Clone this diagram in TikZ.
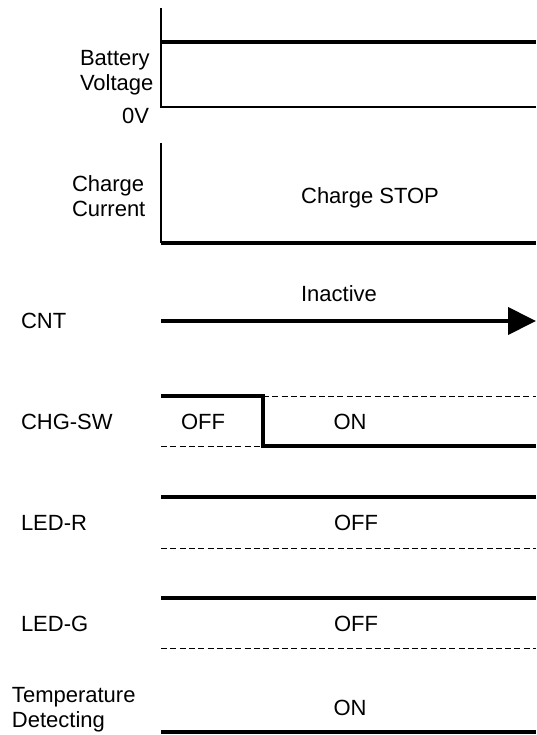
\documentclass[tikz,border=0pt]{standalone}
\usepackage{fontspec}
\setmainfont{Liberation Sans}
\usetikzlibrary{arrows.meta}
\begin{document}
\begin{tikzpicture}[x=1pt,y=-1pt,
  every node/.style={inner sep=0pt,outer sep=0pt,font=\fontsize{22}{26}\selectfont},
  thickline/.style={line width=4pt},
  thinline/.style={line width=1.5pt},
  dashline/.style={line width=1pt,dash pattern=on 6pt off 3.3pt},
  lbl/.style={anchor=base west},
  mid/.style={anchor=base}]
\useasboundingbox (0,0) rectangle (536,735);

% Battery voltage
\coordinate (bvtop) at (161,8);
\coordinate (bv0) at (161,107);
\coordinate (bv0e) at (536,107);
\coordinate (bvl) at (161,42);
\coordinate (bvle) at (536,42);
\draw[thinline] (bvtop) -- (bv0) -- (bv0e);
\draw[thickline] (bvl) -- (bvle);
\node[lbl] (bat1) at (80,66) {Battery};
\node[lbl] (bat2) at (80,91) {Voltage};
\node[anchor=base east] (zero) at (149,124) {0V};

% Charge current
\coordinate (cctop) at (161,143);
\coordinate (ccbot) at (161,243);
\coordinate (ccend) at (536,243);
\draw[thinline] (cctop) -- (ccbot);
\draw[thickline] (ccbot) -- (ccend);
\node[lbl] (cc1) at (72,192) {Charge};
\node[lbl] (cc2) at (72,217) {Current};
\node[mid] (ccstop) at (370,204) {Charge STOP};

% CNT
\coordinate (cnts) at (161,321);
\coordinate (cnte) at (536,321);
\draw[thickline,-{Triangle[length=28pt,width=27pt]}] (cnts) -- (cnte);
\node[mid] (inact) at (339,301) {Inactive};
\node[lbl] (cnt) at (21,328) {CNT};

% CHG-SW
\coordinate (sw1) at (161,396);
\coordinate (sw2) at (263,396);
\coordinate (sw3) at (263,446);
\coordinate (sw4) at (536,446);
\coordinate (sw5) at (536,396);
\coordinate (sw6) at (161,446);
\draw[dashline] (sw2) -- (sw5);
\draw[dashline] (sw6) -- (sw3);
\draw[thickline] (sw1) -- (sw2) -- (sw3) -- (sw4);
\node[lbl] (chgsw) at (21,429) {CHG-SW};
\node[mid] (off1) at (203,429) {OFF};
\node[mid] (on1) at (350,429) {ON};

% LED-R
\coordinate (r1) at (161,497);
\coordinate (r2) at (536,497);
\coordinate (r3) at (161,548);
\coordinate (r4) at (536,548);
\draw[thickline] (r1) -- (r2);
\draw[dashline] (r3) -- (r4);
\node[lbl] (ledr) at (21,530) {LED-R};
\node[mid] (offr) at (356,530) {OFF};

% LED-G
\coordinate (g1) at (161,598);
\coordinate (g2) at (536,598);
\coordinate (g3) at (161,648);
\coordinate (g4) at (536,648);
\draw[thickline] (g1) -- (g2);
\draw[dashline] (g3) -- (g4);
\node[lbl] (ledg) at (21,631) {LED-G};
\node[mid] (offg) at (356,631) {OFF};

% Temperature detecting
\coordinate (t1) at (161,732);
\coordinate (t2) at (536,732);
\draw[thickline] (t1) -- (t2);
\node[lbl] (tmp1) at (12,702) {Temperature};
\node[lbl] (tmp2) at (12,727) {Detecting};
\node[mid] (ont) at (350,715) {ON};
\end{tikzpicture}
\end{document}
